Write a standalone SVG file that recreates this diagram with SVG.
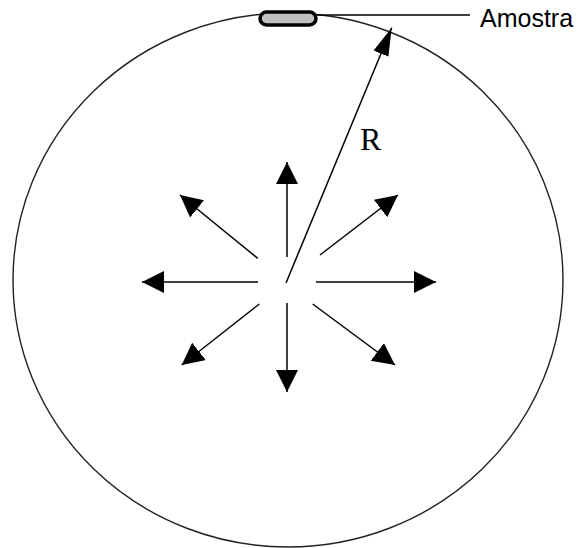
<svg xmlns="http://www.w3.org/2000/svg" width="579" height="548" viewBox="0 0 579 548">
<style>
.ln{stroke:#000;stroke-width:1.5;fill:none}
.lab{font-family:"Liberation Sans",Arial,sans-serif;fill:#000}
.ser{font-family:"Liberation Serif","Times New Roman",serif;fill:#000}
</style>
<defs>
<marker id="ah" markerUnits="userSpaceOnUse" markerWidth="24" markerHeight="24" refX="22" refY="11" orient="auto">
<path d="M0,0 L22,11 L0,22 z" fill="#000"/>
</marker>
<marker id="ahR" markerUnits="userSpaceOnUse" markerWidth="30" markerHeight="20" refX="28" refY="8" orient="auto">
<path d="M0,0 L28,8 L0,16 z" fill="#000"/>
</marker>
</defs>
<rect width="579" height="548" fill="#fff"/>
<g id="sphere">
<ellipse cx="288" cy="280" rx="275" ry="267" fill="none" stroke="#222" stroke-width="1.4"/>
</g>
<g id="connectors">
<line class="ln" x1="287" y1="257" x2="287" y2="162" marker-end="url(#ah)"/>
<line class="ln" x1="287" y1="303" x2="287" y2="392" marker-end="url(#ah)"/>
<line class="ln" x1="258" y1="282" x2="142" y2="282" marker-end="url(#ah)"/>
<line class="ln" x1="316" y1="282" x2="436" y2="282" marker-end="url(#ah)"/>
<line class="ln" x1="257.7" y1="258.3" x2="180" y2="195" marker-end="url(#ah)"/>
<line class="ln" x1="320" y1="255" x2="398" y2="195" marker-end="url(#ah)"/>
<line class="ln" x1="259.3" y1="304" x2="181.7" y2="365" marker-end="url(#ah)"/>
<line class="ln" x1="312.7" y1="304" x2="395" y2="365" marker-end="url(#ah)"/>
<line class="ln" x1="286" y1="283" x2="391.7" y2="27.7" marker-end="url(#ahR)"/>
<line x1="317" y1="15" x2="470" y2="15" stroke="#000" stroke-width="1.5"/>
</g>
<g id="sample">
<rect x="260" y="12" width="56" height="13" rx="6.5" fill="#c0c0c0" stroke="#000" stroke-width="3.5"/>
</g>
<g id="labels">
<text class="lab" x="480" y="27" font-size="25">Amostra</text>
<text class="ser" x="360" y="150" font-size="32">R</text>
</g>
</svg>
